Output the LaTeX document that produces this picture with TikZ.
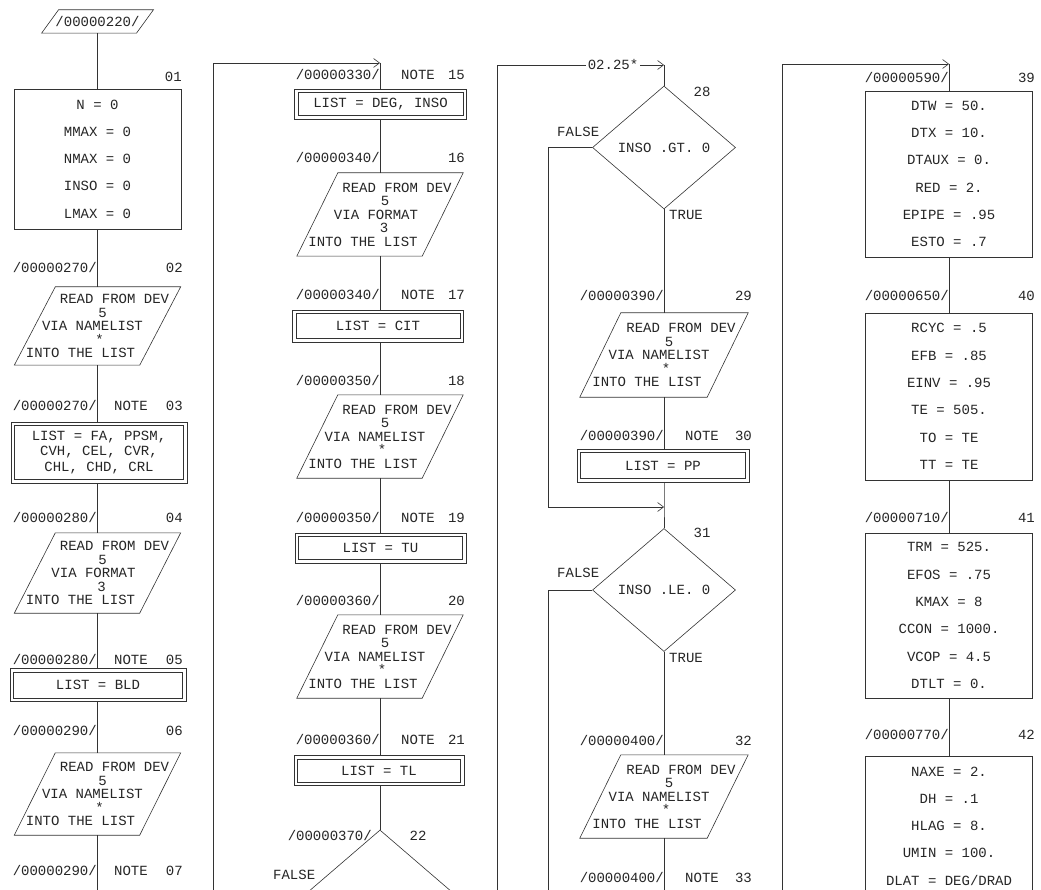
\documentclass[tikz,border=0pt]{standalone}
\usepackage{fontspec}
\setmainfont{Liberation Mono}
\usetikzlibrary{shapes.geometric,arrows.meta}
\newcommand\shiftln[2]{\makebox[0pt]{\hspace*{#1}#2}}
\newcommand\readnl{\shiftln{34pt}{READ FROM DEV}\\\shiftln{10pt}{5}\\\shiftln{-10pt}{VIA NAMELIST}\\\shiftln{4pt}{*}\\\shiftln{-34pt}{INTO THE LIST}}
\newcommand\readfm{\shiftln{34pt}{READ FROM DEV}\\\shiftln{10pt}{5}\\\shiftln{-8pt}{VIA FORMAT}\\\shiftln{8pt}{3}\\\shiftln{-34pt}{INTO THE LIST}}
\newcommand\drawpara[2][20.5pt]{\draw[ln] ([xshift=#1]#2.north west) -- ([xshift=#1]#2.north east) -- ([xshift=-#1]#2.south east) -- ([xshift=-#1]#2.south west) -- cycle;}
\newcommand\innerbox[1]{\draw[ln] ([shift={(4,4)}]#1.north west) rectangle ([shift={(-4,-4)}]#1.south east);}
\tikzset{
  ln/.style={draw=black!80, line width=0.6pt},
  flow/.style={ln, -{Straight Barb[length=6pt,width=9pt]}},
  box/.style={ln, rectangle, minimum width=167pt, inner sep=0pt, align=center, font=\fontsize{14}{27.3}\selectfont},
  notebox/.style={ln, rectangle, inner sep=0pt, minimum width=172pt, minimum height=31pt, align=center},
  para/.style={rectangle, inner sep=0pt, minimum width=125pt, minimum height=80pt, align=center, font=\fontsize{14}{13.5}\selectfont},
  dec/.style={diamond, ln, inner sep=0pt, minimum width=143pt, minimum height=123pt},
  lab/.style={inner sep=0pt, anchor=mid east},
  notel/.style={inner sep=0pt, anchor=mid},
}
\begin{document}
\begin{tikzpicture}[x=1pt,y=-1pt, font=\fontsize{14}{16}\selectfont, text=black!85]
\useasboundingbox (0,0) rectangle (1041,890);
\clip (0,0) rectangle (1041,890);
\fill[white] (0,0) rectangle (1041,890);

% ---------------- column 1 ----------------
\node[para, minimum width=94.5pt, minimum height=23pt, font=\fontsize{14}{14}\selectfont] (p220) at (97.5,21.5) {/00000220/};
\drawpara[8.5pt]{p220}
\node[box, minimum height=140pt] (b01) at (97.5,159) {N = 0\\MMAX = 0\\NMAX = 0\\INSO = 0\\LMAX = 0};
\node[para, minimum height=78pt] (p02) at (97.5,326) {\readnl};
\drawpara{p02}
\node[notebox, minimum width=176pt, minimum height=61pt, font=\fontsize{14}{15.5}\selectfont] (n03) at (99,452.5) {LIST = FA, PPSM,\\CVH, CEL, CVR,\\CHL, CHD, CRL};
\innerbox{n03}
\node[para] (p04) at (97.5,573) {\readfm};
\drawpara{p04}
\node[notebox, minimum width=176pt, minimum height=33pt] (n05) at (98,685) {LIST = BLD};
\innerbox{n05}
\node[para, minimum height=82pt] (p06) at (97.5,794) {\readnl};
\drawpara{p06}
\coordinate (e07) at (97.5,890);

\draw[ln] (p220.south) -- (b01.north);
\draw[ln] (b01.south) -- (p02.north);
\draw[ln] (p02.south) -- (p02.south |- n03.north);
\draw[ln] (n03.south -| p04.north) -- (p04.north);
\draw[ln] (p04.south) -- (p04.south |- n05.north);
\draw[ln] (n05.south -| p06.north) -- (p06.north);
\draw[ln] (p06.south) -- (e07);

\node[lab] (l01) at (182,79) {01};
\node[lab] (a02) at (97,270) {/00000270/};
\node[lab] (l02) at (183,270) {02};
\node[lab] (a03) at (97,408) {/00000270/};
\node[notel] (t03) at (131,408) {NOTE};
\node[lab] (l03) at (183,408) {03};
\node[lab] (a04) at (97,520) {/00000280/};
\node[lab] (l04) at (183,520) {04};
\node[lab] (a05) at (97,662) {/00000280/};
\node[notel] (t05) at (131,662) {NOTE};
\node[lab] (l05) at (183,662) {05};
\node[lab] (a06) at (97,733) {/00000290/};
\node[lab] (l06) at (183,733) {06};
\node[lab] (a07) at (97,873) {/00000290/};
\node[notel] (t07) at (131,873) {NOTE};
\node[lab] (l07) at (183,873) {07};

% ---------------- column 2 ----------------
\coordinate (s2) at (213,890);
\coordinate (t2) at (213,63);
\coordinate (j15) at (380,63);
\node[notebox, minimum width=172pt, minimum height=30pt] (n15) at (380.5,104) {LIST = DEG, INSO};
\innerbox{n15}
\node[para, minimum height=83pt] (p16) at (380,214.5) {\readfm};
\drawpara{p16}
\node[notebox, minimum width=171pt, minimum height=32pt] (n17) at (378,326) {LIST = CIT};
\innerbox{n17}
\node[para, minimum height=83pt] (p18) at (380,436.5) {\readnl};
\drawpara{p18}
\node[notebox, minimum width=171pt, minimum height=30pt] (n19) at (380.5,548) {LIST = TU};
\innerbox{n19}
\node[para, minimum height=83pt] (p20) at (380,656.5) {\readnl};
\drawpara{p20}
\node[notebox, minimum width=170pt, minimum height=30pt] (n21) at (379,770.5) {LIST = TL};
\innerbox{n21}
\node[dec] (d22) at (380,891.5) {};

\draw[flow] (s2) -- (t2) -- (j15);
\draw[ln] (j15) -- (j15 |- n15.north);
\draw[ln] (n15.south -| p16.north) -- (p16.north);
\draw[ln] (p16.south) -- (p16.south |- n17.north);
\draw[ln] (n17.south -| p18.north) -- (p18.north);
\draw[ln] (p18.south) -- (p18.south |- n19.north);
\draw[ln] (n19.south -| p20.north) -- (p20.north);
\draw[ln] (p20.south) -- (p20.south |- n21.north);
\draw[ln] (n21.south -| d22.north) -- (d22.north);

\node[lab] (a15) at (380,77) {/00000330/};
\node[notel] (t15) at (418,77) {NOTE};
\node[lab] (l15) at (465,77) {15};
\node[lab] (a16) at (380,160) {/00000340/};
\node[lab] (l16) at (465,160) {16};
\node[lab] (a17) at (380,297) {/00000340/};
\node[notel] (t17) at (418,297) {NOTE};
\node[lab] (l17) at (465,297) {17};
\node[lab] (a18) at (380,383) {/00000350/};
\node[lab] (l18) at (465,383) {18};
\node[lab] (a19) at (380,520) {/00000350/};
\node[notel] (t19) at (418,520) {NOTE};
\node[lab] (l19) at (465,520) {19};
\node[lab] (a20) at (380,603) {/00000360/};
\node[lab] (l20) at (465,603) {20};
\node[lab] (a21) at (380,742) {/00000360/};
\node[notel] (t21) at (418,742) {NOTE};
\node[lab] (l21) at (465,742) {21};
\node[lab] (a22) at (372,838) {/00000370/};
\node[notel] (l22) at (418,838) {22};
\node[notel] (f22) at ([shift={(-14,-15)}]d22.west) {FALSE};

% ---------------- column 3 ----------------
\coordinate (s3) at (497,890);
\coordinate (t3) at (497,65);
\coordinate (j28) at (664,65);
\node[dec] (d28) at (664,147.5) {INSO .GT. 0};
\coordinate (f28) at (548,147.5);
\node[para, minimum height=84pt, minimum width=127pt] (p29) at (664,355) {\readnl};
\drawpara{p29}
\node[notebox, minimum width=172pt, minimum height=33pt] (n30) at (663,465.5) {LIST = PP};
\innerbox{n30}
\coordinate (m31) at (664,507);
\node[dec] (d31) at (664,590) {INSO .LE. 0};
\coordinate (f31) at (548,590);
\coordinate (e31) at (548,890);
\node[para, minimum height=83pt, minimum width=127pt] (p32) at (664,796.5) {\readnl};
\drawpara{p32}
\coordinate (e33) at (664,890);

\draw[flow] (s3) -- (t3) -- (j28);
\node[fill=white, inner sep=1.5pt] (c225) at (613,65) {02.25*};
\draw[ln] (j28) -- (d28.north);
\draw[ln] (d28.south) -- (p29.north);
\draw[flow] (d28.west) -- (f28) |- (m31);
\draw[ln] (p29.south) -- (p29.south |- n30.north);
\draw[ln] (n30.south -| m31) -- (m31) -- (d31.north);
\draw[ln] (d31.west) -- (f31) -- (e31);
\draw[ln] (d31.south) -- (p32.north);
\draw[ln] (p32.south) -- (e33);

\node[notel] (l28) at (702,94) {28};
\node[notel] (f28t) at ([shift={(-14,-14)}]d28.west) {FALSE};
\node[inner sep=0pt, anchor=mid west] (t28) at ([shift={(5,8)}]d28.south) {TRUE};
\node[lab] (a29) at (664,298) {/00000390/};
\node[lab] (l29) at (752,298) {29};
\node[lab] (a30) at (664,438) {/00000390/};
\node[notel] (t30) at (702,438) {NOTE};
\node[lab] (l30) at (752,438) {30};
\node[notel] (l31) at (702,535) {31};
\node[notel] (f31t) at ([shift={(-14,-15)}]d31.west) {FALSE};
\node[inner sep=0pt, anchor=mid west] (t31) at ([shift={(5,8)}]d31.south) {TRUE};
\node[lab] (a32) at (664,743) {/00000400/};
\node[lab] (l32) at (752,743) {32};
\node[lab] (a33) at (664,880) {/00000400/};
\node[notel] (t33) at (702,880) {NOTE};
\node[lab] (l33) at (752,880) {33};

% ---------------- column 4 ----------------
\coordinate (s4) at (782,890);
\coordinate (t4) at (782,64);
\coordinate (j39) at (949,64);
\node[box, minimum height=166pt] (b39) at (949,174) {DTW = 50.\\DTX = 10.\\DTAUX = 0.\\RED = 2.\\EPIPE = .95\\ESTO = .7};
\node[box, minimum height=167pt] (b40) at (949,396.5) {RCYC = .5\\EFB = .85\\EINV = .95\\TE = 505.\\TO = TE\\TT = TE};
\node[box, minimum height=165pt] (b41) at (949,615.5) {TRM = 525.\\EFOS = .75\\KMAX = 8\\CCON = 1000.\\VCOP = 4.5\\DTLT = 0.};
\node[box, minimum height=140pt] (b42) at (949,826) {NAXE = 2.\\DH = .1\\HLAG = 8.\\UMIN = 100.\\DLAT = DEG/DRAD};

\draw[flow] (s4) -- (t4) -- (j39);
\draw[ln] (j39) -- (b39.north);
\draw[ln] (b39.south) -- (b40.north);
\draw[ln] (b40.south) -- (b41.north);
\draw[ln] (b41.south) -- (b42.north);

\node[lab] (a39) at (949,80) {/00000590/};
\node[lab] (l39) at (1035,80) {39};
\node[lab] (a40) at (949,298) {/00000650/};
\node[lab] (l40) at (1035,298) {40};
\node[lab] (a41) at (949,520) {/00000710/};
\node[lab] (l41) at (1035,520) {41};
\node[lab] (a42) at (949,737) {/00000770/};
\node[lab] (l42) at (1035,737) {42};
\end{tikzpicture}
\end{document}
